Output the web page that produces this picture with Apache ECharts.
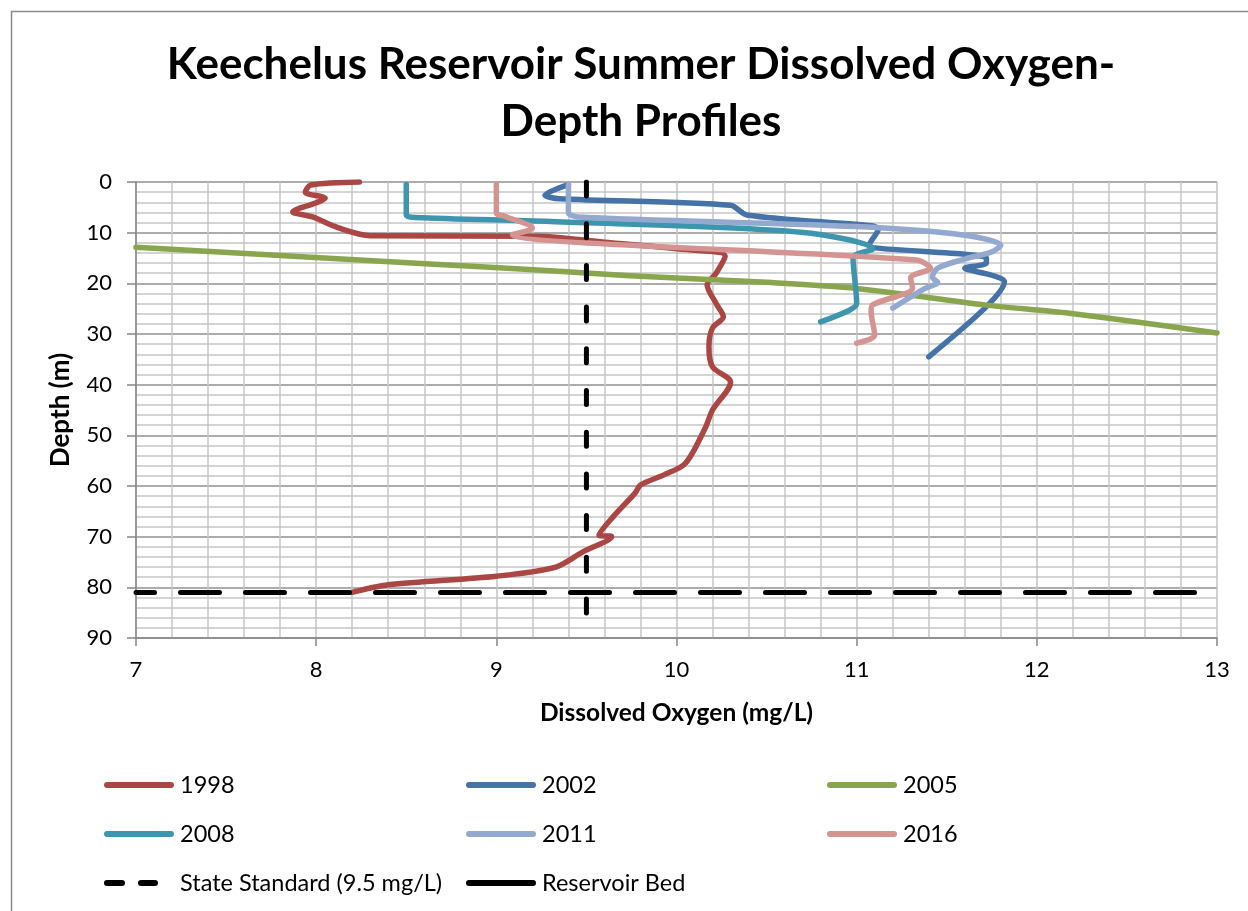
<!DOCTYPE html>
<html>
<head>
<meta charset="utf-8">
<script src="https://cdn.jsdelivr.net/npm/echarts@6/dist/echarts.min.js"></script>
<style>
html,body{margin:0;padding:0;background:#fff;}
#chart{width:1248px;height:911px;}
</style>
</head>
<body>
<div id="chart"></div>
<script>
// Data: [dissolved oxygen (mg/L), depth (m)]
const series1998 = [[8.24,0],[7.97,0.6],[7.94,2],[8.05,3.2],[8.0,4.1],[7.87,5.9],[7.98,6.9],[8.12,9],[8.3,10.6],[9.22,10.7],[9.6,11.9],[10.0,13.2],[10.27,14.6],[10.22,18],[10.17,20.3],[10.22,24],[10.26,26.6],[10.2,28.8],[10.18,32.5],[10.2,36.5],[10.3,39.5],[10.2,45],[10.16,48.5],[10.05,55.5],[9.93,57.8],[9.8,59.8],[9.77,61.4],[9.65,66],[9.57,69.7],[9.64,70],[9.48,73],[9.33,76],[9.0,77.8],[8.4,79.5],[8.2,81]];
const series2002 = [[9.4,0.5],[9.27,2.6],[9.35,3.3],[10.3,4.6],[10.39,6.5],[11.09,8.7],[11.12,9.3],[11.07,12.5],[11.1,13],[11.72,15],[11.72,16],[11.6,17],[11.75,18.4],[11.82,19.7],[11.72,24.6],[11.4,34.5]];
const series2005 = [[7,12.9],[8.63,16.2],[9.3,17.5],[9.74,18.5],[10.5,19.8],[11.0,21.0],[11.72,24.3],[12.18,25.9],[13,29.8]];
const series2008 = [[8.5,0.5],[8.5,6.5],[8.55,7],[9.3,7.8],[10.69,9.9],[11.09,13.2],[10.98,15],[11.0,24],[10.96,25.3],[10.8,27.6]];
const series2011 = [[9.4,0.5],[9.4,6],[9.45,6.9],[11.0,8.8],[11.6,10.5],[11.8,12.5],[11.75,13.8],[11.6,15.2],[11.45,17],[11.42,18.8],[11.45,19.8],[11.38,21],[11.2,24.9]];
const series2016 = [[9.0,0.5],[9.0,6.1],[9.05,6.8],[9.2,9.1],[9.09,10.4],[11.33,15.4],[11.41,17],[11.3,18.9],[11.31,20.9],[11.09,24.2],[11.08,25.5],[11.1,30.2],[11.0,31.8]];
const stateStandard = [[9.5,0],[9.5,90]];
const reservoirBed = [[7,81],[13,81]];
const seriesNames = ['1998','2002','2005','2008','2011','2016','State Standard (9.5 mg/L)','Reservoir Bed'];
const xTicks = [7,8,9,10,11,12,13];
const yTicks = [0,10,20,30,40,50,60,70,80,90];

const colors = ['#AA4643','#4572A7','#89A54E','#3D96AE','#93A9CF','#D49492','#000000','#000000'];
const dataSets = [series1998,series2002,series2005,series2008,series2011,series2016,stateStandard,reservoirBed];

const FONT = 'Lato';
const chart = echarts.init(document.getElementById('chart'));

const seriesList = dataSets.map((d,i)=>{
  const s = {
    name: seriesNames[i], type:'line', data:d, showSymbol:false, symbol:'none',
    smooth: i<6 ? 0.3 : false,
    lineStyle:{color:colors[i], width:5.5, cap:'round', join:'round'},
    itemStyle:{color:colors[i]},
    animation:false
  };
  if(i===6){ s.lineStyle = {color:'#000', width:5, type:[14,27.7], cap:'round'}; }
  if(i===7){ s.lineStyle = {color:'#000', width:5, type:[39,26], dashOffset:20.5, cap:'round'}; }
  return s;
});

const BAR = 'path://M3,0 L67,0 A3,3 0 0 1 67,6 L3,6 A3,3 0 0 1 3,0 Z';
const DASHES = 'path://M3,0 L18,0 A3,3 0 0 1 18,6 L3,6 A3,3 0 0 1 3,0 Z M37,0 L51,0 A3,3 0 0 1 51,6 L37,6 A3,3 0 0 1 37,0 Z M70,3 L70,3.01 Z';
const legendText = {fontFamily:FONT, fontSize:23.5, color:'#000', lineHeight:28};
function item(n, icon){
  const idx = seriesNames.indexOf(n);
  return {name:n, icon: icon || BAR, itemStyle:{color:colors[idx], borderWidth:0}};
}
function mkLegend(left, names){
  return {
    orient:'vertical', left:left, top:766, itemWidth:72, itemHeight:6, itemGap:21,
    textStyle:legendText, selectedMode:false,
    data: names.map(n=> item(n, n.indexOf('State')===0 ? DASHES : BAR))
  };
}

chart.setOption({
  backgroundColor:'#fff',
  animation:false,
  title:{
    text:'Keechelus Reservoir Summer Dissolved Oxygen-\nDepth Profiles',
    left:636, top:31, textAlign:'center',
    textStyle:{fontFamily:FONT, fontSize:44, fontWeight:'bold', color:'#000', lineHeight:57}
  },
  graphic:[{type:'rect', shape:{x:11.5,y:11.5,width:1300,height:1000}, style:{fill:'none', stroke:'#8a8a8a', lineWidth:1.5}, silent:true, z:-1}],
  grid:{left:136, top:182, right:31, bottom:273, containLabel:false},
  xAxis:{
    type:'value', min:xTicks[0], max:xTicks[xTicks.length-1], interval:1,
    name:'Dissolved Oxygen (mg/L)', nameLocation:'middle', nameGap:63,
    nameTextStyle:{fontFamily:FONT, fontSize:24.5, fontWeight:'bold', color:'#000'},
    axisLine:{show:true, onZero:false, lineStyle:{color:'#868686', width:1.5}},
    axisTick:{show:true, length:8, lineStyle:{color:'#868686', width:1.5}},
    axisLabel:{fontFamily:FONT, fontSize:22, color:'#000', margin:21},
    splitLine:{show:true, lineStyle:{color:'#c2c2c2', width:1.5}},
    minorTick:{show:false, splitNumber:5},
    minorSplitLine:{show:true, lineStyle:{color:'#c6c6c6', width:1.5}}
  },
  yAxis:{
    type:'value', min:yTicks[0], max:yTicks[yTicks.length-1], interval:10, inverse:true,
    name:'Depth (m)', nameLocation:'middle', nameGap:62, nameRotate:90,
    nameTextStyle:{fontFamily:FONT, fontSize:26, fontWeight:'bold', color:'#000'},
    axisLine:{show:true, lineStyle:{color:'#868686', width:1.5}},
    axisTick:{show:true, length:9, lineStyle:{color:'#868686', width:1.5}},
    axisLabel:{fontFamily:FONT, fontSize:22, color:'#000', margin:24},
    splitLine:{show:true, lineStyle:{color:'#909090', width:1.5}},
    minorTick:{show:false, splitNumber:5},
    minorSplitLine:{show:true, lineStyle:{color:'#c6c6c6', width:1.5}}
  },
  legend:[
    mkLegend(99, ['1998','2008','State Standard (9.5 mg/L)']),
    mkLegend(461, ['2002','2011','Reservoir Bed']),
    mkLegend(822, ['2005','2016'])
  ],
  series: seriesList
});
</script>
</body>
</html>
